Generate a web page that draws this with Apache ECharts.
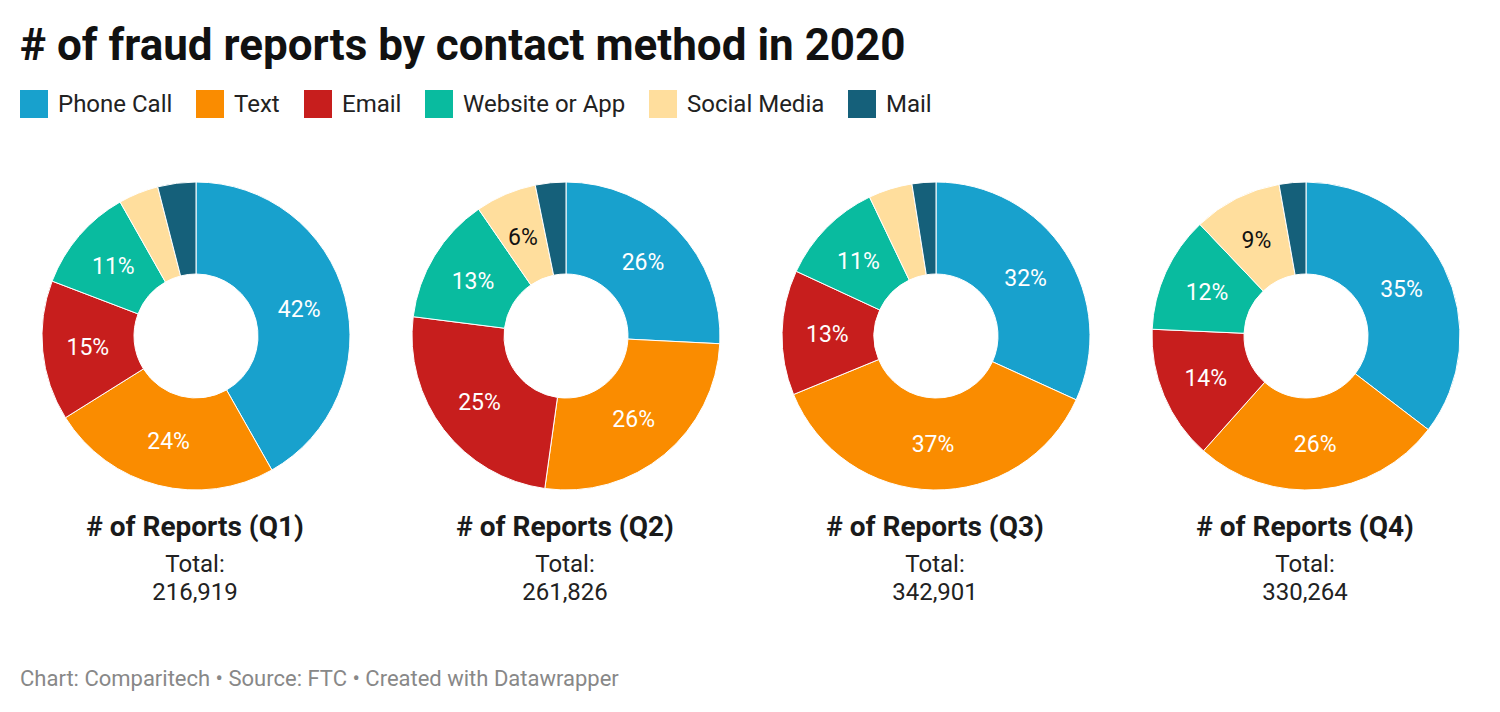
<!DOCTYPE html>
<html>
<head>
<meta charset="utf-8">
<style>
html, body { margin: 0; padding: 0; background: #fff; }
#chart { width: 1500px; height: 712px; }
</style>
<script src="https://cdn.jsdelivr.net/npm/echarts@6/dist/echarts.min.js"></script>
</head>
<body>
<div id="chart"></div>
<script>
// 数据
const methods = ['Phone Call', 'Text', 'Email', 'Website or App', 'Social Media', 'Mail'];
const colors = ['#18a1cd', '#fa8c00', '#c71e1d', '#09bb9f', '#ffde9d', '#15607a'];
const q1 = [41.8, 24.3, 14.7, 11, 4.2, 4];
const q2 = [25.8, 26.4, 24.8, 13.4, 6.4, 3.2];
const q3 = [31.8, 37, 13.1, 11, 4.6, 2.5];
const q4 = [35.4, 26.2, 14.1, 12.2, 9.3, 2.8];
const quarters = ['# of Reports (Q1)', '# of Reports (Q2)', '# of Reports (Q3)', '# of Reports (Q4)'];
const totals = ['216,919', '261,826', '342,901', '330,264'];
const centerX = [196, 566, 936, 1306];
const centerY = 336;

const font = 'Roboto';
let chart = echarts.init(document.getElementById('chart'), null, { renderer: 'svg' });

// 每个季度一个环形图
let series = [q1, q2, q3, q4].map(function (vals, i) {
    return {
        type: 'pie',
        name: quarters[i],
        center: [centerX[i], centerY],
        radius: [62, 154],
        startAngle: 90,
        clockwise: true,
        silent: true,
        itemStyle: { borderColor: '#fff', borderWidth: 1 },
        label: {
            position: 'inside',
            fontFamily: font,
            fontSize: 23,
            formatter: function (p) {
                return p.value >= 5 ? Math.round(p.value) + '%' : '';
            }
        },
        // 标签比环的中线略靠内
        labelLayout: function (p) {
            let r = p.labelRect;
            return {
                dx: (centerX[i] - (r.x + r.width / 2)) * 0.03 - 1,
                dy: (centerY - (r.y + r.height / 2)) * 0.03 + 1
            };
        },
        labelLine: { show: false },
        data: vals.map(function (v, j) {
            return {
                name: methods[j],
                value: v,
                itemStyle: { color: colors[j] },
                label: { color: j === 4 ? '#111' : '#fff' }
            };
        })
    };
});

// 图例位置
const legendX = [20, 196, 304, 425, 649, 848];
let legends = methods.map(function (m, j) {
    return {
        show: true,
        left: legendX[j],
        top: 90,
        padding: 0,
        itemWidth: 28,
        itemHeight: 28,
        icon: 'rect',
        itemStyle: { borderWidth: 0 },
        data: [m],
        textStyle: { fontFamily: font, fontSize: 24, color: '#222', padding: [0, 0, 0, 5] }
    };
});

let titles = [{
    text: '# of fraud reports by contact method in 2020',
    left: 20,
    top: 23,
    padding: 0,
    textStyle: { fontFamily: font, fontSize: 44, fontWeight: 700, color: '#111' }
}, {
    text: 'Chart: Comparitech • Source: FTC • Created with Datawrapper',
    left: 20,
    top: 667,
    padding: 0,
    textStyle: { fontFamily: font, fontSize: 22, fontWeight: 400, color: '#888' }
}];
quarters.forEach(function (q, i) {
    titles.push({
        text: q,
        subtext: 'Total:\n' + totals[i],
        left: centerX[i] - 1,
        top: 512,
        padding: 0,
        textAlign: 'center',
        itemGap: 10,
        textStyle: { fontFamily: font, fontSize: 28, fontWeight: 700, color: '#1a1a1a' },
        subtextStyle: { fontFamily: font, fontSize: 24, color: '#222', lineHeight: 28, align: 'center' }
    });
});

chart.setOption({
    animation: false,
    backgroundColor: '#fff',
    title: titles,
    legend: legends,
    series: series
});
</script>
</body>
</html>
